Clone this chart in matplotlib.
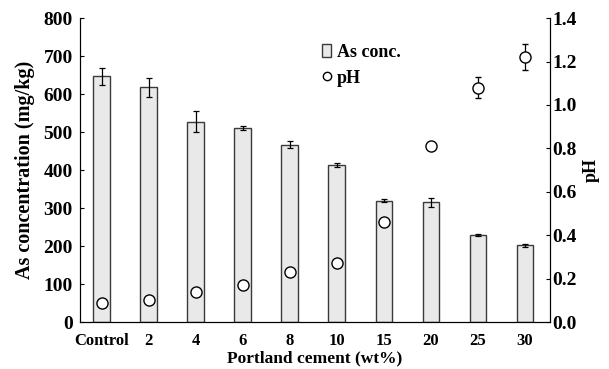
import matplotlib.pyplot as plt
from matplotlib.lines import Line2D
import numpy as np

plt.rcParams['font.family'] = 'Liberation Serif'
plt.rcParams['font.weight'] = 'bold'

# Data
cement = ["Control", "2", "4", "6", "8", "10", "15", "20", "25", "30"]
as_conc = [647, 618, 527, 510, 467, 413, 320, 315, 230, 202]
as_err = [22, 25, 28, 5, 10, 5, 3, 12, 3, 3]
ph = [0.09, 0.10, 0.14, 0.17, 0.23, 0.27, 0.46, 0.81, 1.08, 1.22]
ph_err = [0.0, 0.0, 0.0, 0.0, 0.0, 0.0, 0.0, 0.0, 0.05, 0.06]

x = np.arange(len(cement))

fig = plt.figure(figsize=(6.09, 3.69), dpi=100)
ax = fig.add_axes([0.131, 0.127, 0.772, 0.824])

bars = ax.bar(x, as_conc, width=0.36, color='#e9e9e9', edgecolor='#3a3a3a',
              linewidth=1.0, yerr=as_err, capsize=2.5,
              error_kw=dict(elinewidth=0.9, ecolor='black', capthick=0.9),
              label='As conc.')
ax.set_xlim(-0.47, 9.53)
ax.set_ylim(0, 800)
ax.set_yticks(range(0, 801, 100))
ax.set_xticks(x)
ax.set_xticklabels(cement)
ax.tick_params(axis='y', direction='in', length=3, labelsize=14, pad=5)
ax.tick_params(axis='x', length=0, labelsize=12, pad=8)
ax.spines['top'].set_visible(False)
ax.set_ylabel("As concentration (mg/kg)", fontsize=14.5, fontweight='bold', labelpad=6)
ax.set_xlabel("Portland cement (wt%)", fontsize=12.5, fontweight='bold', labelpad=1)

ax2 = ax.twinx()
ax2.errorbar(x, ph, yerr=ph_err, fmt='o', mfc='white', mec='black', mew=1.0,
             ms=8, ecolor='black', elinewidth=0.9, capsize=2.5)
ax2.set_ylim(0, 1.4)
ax2.set_yticks(np.arange(0, 1.41, 0.2))
ax2.set_yticklabels([f"{v:.1f}" for v in np.arange(0, 1.41, 0.2)])
ax2.tick_params(axis='y', direction='in', length=3, labelsize=14, pad=2)
ax2.spines['top'].set_visible(False)
ax2.set_ylabel("pH", fontsize=13, fontweight='bold', labelpad=4)

# legend: plain circle for pH (no error bar)
ph_handle = Line2D([], [], marker='o', ls='none', mfc='white', mec='black', mew=1.0, ms=6)
h1, l1 = ax.get_legend_handles_labels()
ax2.legend(h1 + [ph_handle], l1 + ['pH'], loc='upper left', bbox_to_anchor=(0.5, 0.94),
           frameon=False, fontsize=13, handlelength=0.5, handletextpad=0.3,
           borderaxespad=0, labelspacing=0.5)

fig.savefig("out.png", dpi=100)
